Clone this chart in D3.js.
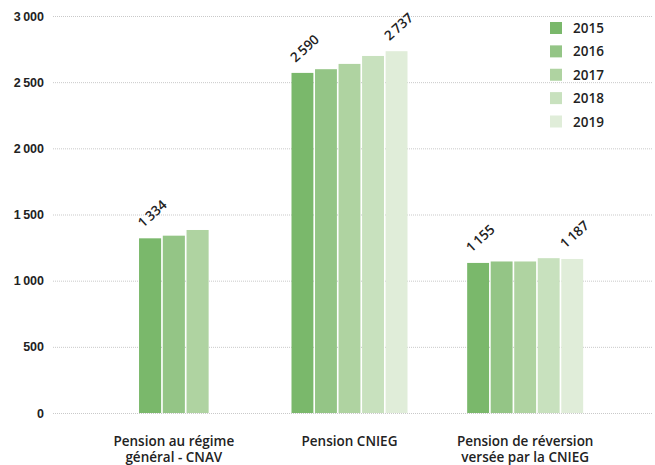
<!DOCTYPE html>
<html>
<head>
<meta charset="utf-8">
<script src="https://cdn.jsdelivr.net/npm/d3@7"></script>
<style>
  body { margin: 0; background: #fff; }
  svg { font-family: "Open Sans", sans-serif; font-weight: 600; }
</style>
</head>
<body>
<script>
// data
const categories = ["Pension au régime général - CNAV", "Pension CNIEG", "Pension de réversion versée par la CNIEG"];
const categoryLines = [["Pension au régime", "général - CNAV"], ["Pension CNIEG"], ["Pension de réversion", "versée par la CNIEG"]];
const years = ["2015", "2016", "2017", "2018", "2019"];
const cnav = [1320, 1340, 1383, null, null];
const cnieg = [2570, 2598, 2638, 2698, 2734];
const reversion = [1134, 1145, 1145, 1170, 1164];
const series = [cnav, cnieg, reversion];
// value annotations shown above some bars: [category index, year index, text value]
const annotations = [[0, 0, 1334], [1, 0, 2590], [1, 4, 2737], [2, 0, 1155], [2, 4, 1187]];
const yTicks = [0, 500, 1000, 1500, 2000, 2500, 3000];
const colors = ["#7ab86b", "#94c586", "#afd3a1", "#c8e1be", "#e0edd9"];

const width = 655, height = 465;
const margin = { left: 53, right: 3, top: 16, bottom: 52 };

const fmt = d3.formatLocale({ decimal: ",", thousands: "\u2009", grouping: [3], currency: ["", "€"] }).format(",d");

const svg = d3.select("body").append("svg")
  .attr("width", width).attr("height", height);

const y = d3.scaleLinear().domain([0, 3000]).range([height - margin.bottom, margin.top]);
const x = d3.scaleBand().domain(categories).range([86, 613]);
const barStep = 23.2;

// grid + y axis
const yAxis = d3.axisLeft(y).tickValues(yTicks).tickFormat(fmt)
  .tickSize(-(width - margin.left - margin.right)).tickPadding(9);

const gy = svg.append("g").attr("transform", `translate(${margin.left},0)`).call(yAxis);
gy.select(".domain").remove();
gy.selectAll(".tick line").attr("stroke", "#c9c9c9").attr("stroke-dasharray", "1,1");
gy.selectAll(".tick text").attr("fill", "#222").style("font-size", "12.5px").style("font-weight", 600);

// bars
categories.forEach((cat, ci) => {
  const vals = series[ci];
  const ys = years.filter((yr, i) => vals[i] != null);
  const inner = d3.scaleBand().domain(ys)
    .range([-ys.length * barStep / 2, ys.length * barStep / 2]).paddingInner(0.07);
  const g = svg.append("g").attr("transform", `translate(${x(cat) + x.bandwidth() / 2},0)`);
  g.selectAll("rect")
    .data(ys.map(yr => ({ yr, v: vals[years.indexOf(yr)] })))
    .join("rect")
    .attr("x", d => inner(d.yr))
    .attr("width", inner.bandwidth())
    .attr("y", d => y(d.v))
    .attr("height", d => y(0) - y(d.v))
    .attr("fill", d => colors[years.indexOf(d.yr)]);

  annotations.filter(a => a[0] === ci).forEach(a => {
    const yr = years[a[1]];
    const bx = inner(yr) + 4;
    const by = y(vals[a[1]]) - 10;
    g.append("text")
      .attr("transform", `translate(${bx},${by}) rotate(-42)`)
      .attr("fill", "#222")
      .style("font-size", "13.5px")
      .text(fmt(a[2]));
  });
});

// category labels, one text per line
categories.forEach((cat, ci) => {
  categoryLines[ci].forEach((line, li) => {
    svg.append("text")
      .attr("x", x(cat) + x.bandwidth() / 2)
      .attr("y", 446 + li * 16)
      .attr("text-anchor", "middle")
      .attr("fill", "#222")
      .style("font-size", "13.5px")
      .text(line);
  });
});

// legend
const legend = svg.append("g").attr("transform", "translate(550,22)");
const ly = d3.scalePoint().domain(years).range([0, 93.5]);
legend.selectAll("rect").data(years).join("rect")
  .attr("x", 0).attr("y", d => ly(d))
  .attr("width", 12).attr("height", 12)
  .attr("fill", (d, i) => colors[i]);
legend.selectAll("text").data(years).join("text")
  .attr("x", 23).attr("y", d => ly(d) + 11)
  .attr("fill", "#222")
  .style("font-size", "13.5px")
  .text(d => d);
</script>
</body>
</html>
